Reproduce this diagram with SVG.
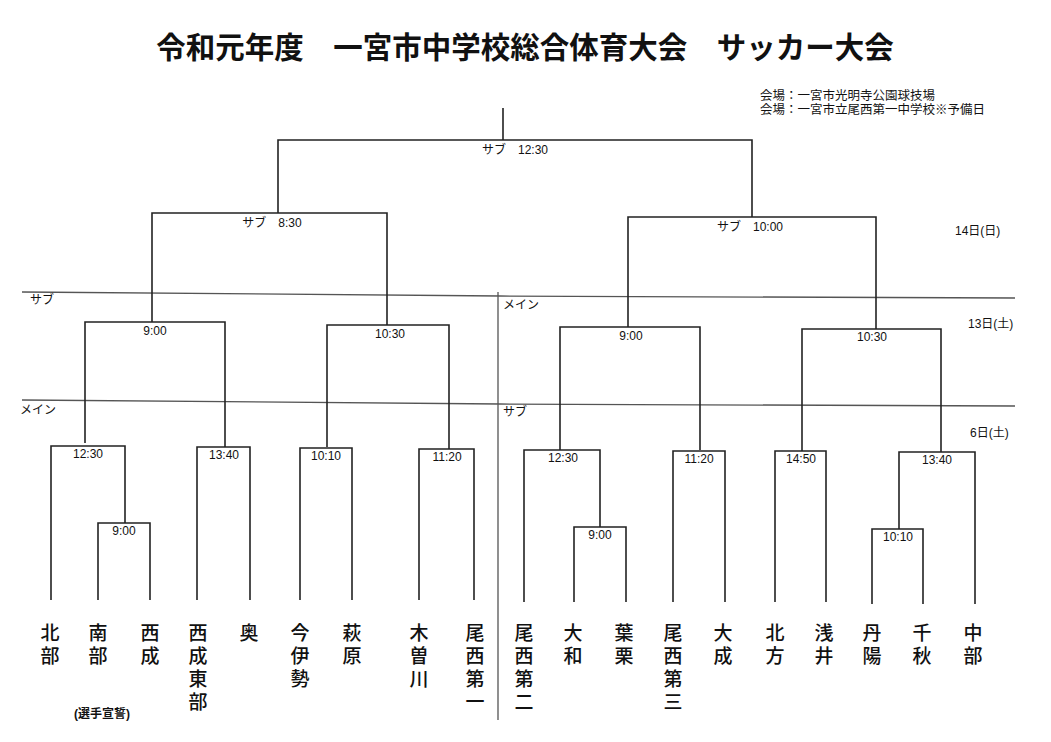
<svg xmlns="http://www.w3.org/2000/svg" width="1051" height="742" viewBox="0 0 1051 742">
<style>
text{font-family:"Liberation Sans","Noto Sans CJK JP",sans-serif;fill:#111}
.b{fill:none;stroke:#222;stroke-width:1.6}
.g{fill:none;stroke:#555;stroke-width:1.3}
.t{font-size:12px;text-anchor:middle}
.m{font-size:12px}
.n{font-size:19px;text-anchor:middle;font-family:"Noto Sans CJK JP",sans-serif;font-weight:500}
</style>
<rect width="1051" height="742" fill="#fff"/>
<text x="525" y="58" font-size="29.5" font-weight="bold" text-anchor="middle" font-family="Noto Sans CJK JP,sans-serif">令和元年度　一宮市中学校総合体育大会　サッカー大会</text>
<text x="760" y="100" font-size="12.5">会場：一宮市光明寺公園球技場</text>
<text x="760" y="114" font-size="12.5">会場：一宮市立尾西第一中学校※予備日</text>
<g id="grid">
<path class="g" d="M22 292 L500 296 L1015 298 M22 400 L500 404 L1015 406 M498 292 V720"/>
<text class="m" x="30" y="304">サブ</text>
<text class="m" x="20" y="414">メイン</text>
<text class="m" x="503" y="309">メイン</text>
<text class="m" x="503" y="416">サブ</text>
<text class="m" x="955" y="235">14日(日)</text>
<text class="m" x="968" y="328">13日(土)</text>
<text class="m" x="970" y="437">6日(土)</text>
</g>
<g id="connectors">
<path class="b" d="M503 108 V140 M278 213 V140 H752 V217"/>
<path class="b" d="M152 322 V213 H387 V325 M628 327 V217 H876 V329"/>
<path class="b" d="M85 443 V322 H225 V447 M327 447 V325 H449 V449 M560 450 V327 H700 V450 M802 451 V329 H941 V452"/>
<path class="b" d="M51 600 V446 H125 V523 M98 600 V523 H150 V600 M197 600 V447 H250 V600 M300 600 V448 H352 V600 M419 600 V449 H474 V600"/>
<path class="b" d="M524 602 V450 H600 V527 M574 602 V527 H626 V602 M673 602 V451 H725 V602 M775 602 V451 H826 V602 M899 529 V452 H975 V604 M872 604 V529 H923 V604"/>
</g>
<g id="times">
<text class="t" x="515" y="154">サブ　12:30</text>
<text class="t" x="272" y="227">サブ　8:30</text>
<text class="t" x="750" y="231">サブ　10:00</text>
<text class="t" x="155" y="335">9:00</text>
<text class="t" x="390" y="338">10:30</text>
<text class="t" x="631" y="340">9:00</text>
<text class="t" x="872" y="341">10:30</text>
<text class="t" x="88" y="458">12:30</text>
<text class="t" x="124" y="535">9:00</text>
<text class="t" x="224" y="459">13:40</text>
<text class="t" x="326" y="460">10:10</text>
<text class="t" x="447" y="461">11:20</text>
<text class="t" x="563" y="462">12:30</text>
<text class="t" x="600" y="539">9:00</text>
<text class="t" x="699" y="463">11:20</text>
<text class="t" x="801" y="463">14:50</text>
<text class="t" x="937" y="464">13:40</text>
<text class="t" x="898" y="541">10:10</text>
</g>
<g id="teams">
<text class="n" x="50" y="640">北</text><text class="n" x="50" y="663">部</text>
<text class="n" x="98" y="640">南</text><text class="n" x="98" y="663">部</text>
<text class="n" x="150" y="640">西</text><text class="n" x="150" y="663">成</text>
<text class="n" x="198" y="640">西</text><text class="n" x="198" y="663">成</text><text class="n" x="198" y="686">東</text><text class="n" x="198" y="709">部</text>
<text class="n" x="249" y="640">奥</text>
<text class="n" x="300" y="640">今</text><text class="n" x="300" y="663">伊</text><text class="n" x="300" y="686">勢</text>
<text class="n" x="352" y="640">萩</text><text class="n" x="352" y="663">原</text>
<text class="n" x="419" y="640">木</text><text class="n" x="419" y="663">曽</text><text class="n" x="419" y="686">川</text>
<text class="n" x="475" y="640">尾</text><text class="n" x="475" y="663">西</text><text class="n" x="475" y="686">第</text><text class="n" x="475" y="709">一</text>
<text class="n" x="524" y="640">尾</text><text class="n" x="524" y="663">西</text><text class="n" x="524" y="686">第</text><text class="n" x="524" y="709">二</text>
<text class="n" x="573" y="640">大</text><text class="n" x="573" y="663">和</text>
<text class="n" x="624" y="640">葉</text><text class="n" x="624" y="663">栗</text>
<text class="n" x="673" y="640">尾</text><text class="n" x="673" y="663">西</text><text class="n" x="673" y="686">第</text><text class="n" x="673" y="709">三</text>
<text class="n" x="723" y="640">大</text><text class="n" x="723" y="663">成</text>
<text class="n" x="775" y="640">北</text><text class="n" x="775" y="663">方</text>
<text class="n" x="824" y="640">浅</text><text class="n" x="824" y="663">井</text>
<text class="n" x="872" y="640">丹</text><text class="n" x="872" y="663">陽</text>
<text class="n" x="922" y="640">千</text><text class="n" x="922" y="663">秋</text>
<text class="n" x="973" y="640">中</text><text class="n" x="973" y="663">部</text>
<text x="102" y="718" font-size="12" font-weight="bold" text-anchor="middle">(選手宣誓)</text>
</g>
</svg>
